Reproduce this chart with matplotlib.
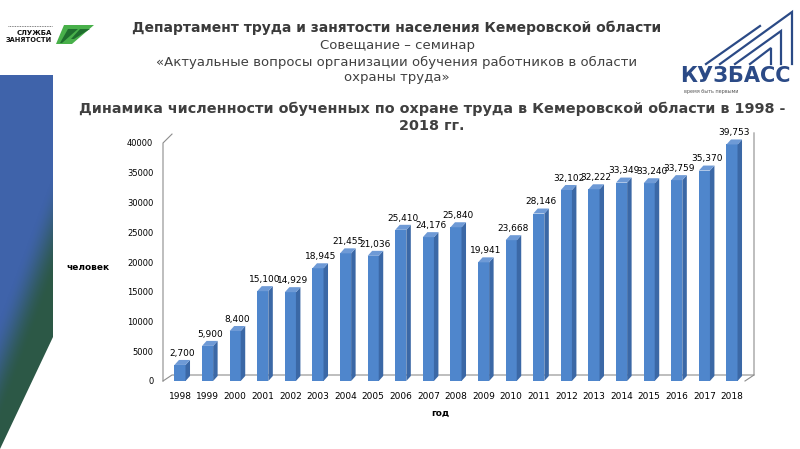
import matplotlib
matplotlib.use("Agg")
import matplotlib.pyplot as plt
import numpy as np
from matplotlib.patches import Polygon
from matplotlib.colors import LinearSegmentedColormap

# data
years = ["1998", "1999", "2000", "2001", "2002", "2003", "2004", "2005", "2006", "2007",
         "2008", "2009", "2010", "2011", "2012", "2013", "2014", "2015", "2016", "2017", "2018"]
trained = [2700, 5900, 8400, 15100, 14929, 18945, 21455, 21036, 25410, 24176,
           25840, 19941, 23668, 28146, 32102, 32222, 33349, 33240, 33759, 35370, 39753]
y_ticks = [0, 5000, 10000, 15000, 20000, 25000, 30000, 35000, 40000]

header = "Департамент труда и занятости населения Кемеровской области"
sub1 = "Совещание – семинар"
sub2 = "«Актуальные вопросы организации обучения работников в области"
sub3 = "охраны труда»"
title = "Динамика численности обученных по охране труда в Кемеровской области в 1998 -\n2018 гг."

W, H = 800, 449
fig = plt.figure(figsize=(8, 4.49), dpi=100)

# overlay in pixel coords for decoration and headings
bg = fig.add_axes([0, 0, 1, 1])
bg.set_xlim(0, W)
bg.set_ylim(H, 0)
bg.axis("off")

# left gradient band
yy, xx = np.mgrid[0:H, 0:60]
t = (xx / 53.0 - 0.5) * 1.3 + (yy - 240) / 110.0
t = np.clip(t, 0, 1)
t = t * t * (3 - 2 * t)
cmap = LinearSegmentedColormap.from_list("band", ["#3f63aa", "#2c5846"])
im = bg.imshow(t, cmap=cmap, extent=(0, 60, H, 0), aspect="auto", zorder=1)
band = Polygon([(0, 75), (53, 75), (53, 337), (0, 449)], closed=True,
               transform=bg.transData, facecolor="none", edgecolor="none")
bg.add_patch(band)
im.set_clip_path(band)

# left logo (rough)
bg.text(52, 33, "СЛУЖБА", fontsize=5, fontweight="bold", ha="right", va="center", color="#111111")
bg.text(52, 40, "ЗАНЯТОСТИ", fontsize=4.8, fontweight="bold", ha="right", va="center", color="#111111")
bg.plot([8, 52], [26, 26], color="#555555", lw=0.6, ls=(0, (1, 1)))
bg.add_patch(Polygon([(64, 25), (94, 25), (72, 44), (56, 44)], closed=True, facecolor="#48b04a", edgecolor="none"))
bg.add_patch(Polygon([(68, 29), (78, 29), (62, 43), (60, 43)], closed=True, facecolor="#1f6e2e", edgecolor="none"))
bg.add_patch(Polygon([(80, 29), (90, 29), (74, 39), (71, 39)], closed=True, facecolor="#1f6e2e", edgecolor="none"))

# right logo (rough)
navy = "#2b4a86"
for pts in ([(720, 64), (792, 12), (792, 64)],
            [(735, 64), (781, 31), (781, 64)],
            [(750, 64), (771, 48), (771, 64)],
            [(706, 64), (760, 26)]):
    px, py = zip(*pts)
    bg.plot(px, py, color=navy, lw=1.6, solid_joinstyle="miter")
bg.text(735, 76, "КУЗБАСС", fontsize=15, fontweight="bold", color=navy, ha="center", va="center")
bg.text(684, 91, "время быть первыми", fontsize=3.5, color="#555555", ha="left", va="center")

# headings
bg.text(397, 28, header, fontsize=10, fontweight="bold", color="#3a3a3a", ha="center", va="center")
bg.text(397, 46, sub1, fontsize=9.5, color="#404040", ha="center", va="center")
bg.text(397, 62, sub2, fontsize=9.5, color="#404040", ha="center", va="center")
bg.text(397, 78, sub3, fontsize=9.5, color="#404040", ha="center", va="center")
bg.text(432, 117, title, fontsize=10.4, fontweight="bold", color="#404040",
        ha="center", va="center", linespacing=1.3)
bg.text(88, 268, "человек", fontsize=6.5, fontweight="bold", ha="center", va="center")
bg.text(440, 413, "год", fontsize=6.5, fontweight="bold", ha="center", va="center")

# chart axes: 1998 at x=180 px, 27.6 px per year; y=0 at 381 px, 238 px per 40000
step = 27.6
x0px = 180
left_px, right_px = 163, 770
top_px, bot_px = 125, 381
ax = fig.add_axes([left_px / W, (H - bot_px) / H, (right_px - left_px) / W, (bot_px - top_px) / H])
ax.set_xlim((left_px - x0px) / step, (right_px - x0px) / step)
ax.set_ylim(0, (bot_px - top_px) / 238 * 40000)
ax.patch.set_alpha(0)
for s in ax.spines.values():
    s.set_visible(False)

x = np.arange(len(years))
bw = 0.4
dx = 4.5 / step
dy = 5 / 238 * 40000
front = "#4f86cc"
side = "#3b68a6"
topc = "#6e9ad6"
ax.bar(x, trained, width=bw, color=front, edgecolor="none", zorder=3)
for xi, v in zip(x, trained):
    r = xi + bw / 2
    l = xi - bw / 2
    ax.add_patch(Polygon([(r, 0), (r + dx, dy), (r + dx, v + dy), (r, v)], closed=True,
                         facecolor=side, edgecolor="none", zorder=3))
    ax.add_patch(Polygon([(l, v), (l + dx, v + dy), (r + dx, v + dy), (r, v)], closed=True,
                         facecolor=topc, edgecolor="none", zorder=3))
    ax.text(xi + dx / 2, v + dy + 350, f"{v:,}", fontsize=6.5, ha="center", va="bottom", zorder=4)

# 3d walls
wdx = 9 / step
wdy = 6 / 238 * 40000
xl = (163 - x0px) / step
xr = (754 - x0px) / step
gray = "#8c8c8c"
ax.plot([xl, xl, xl + wdx], [0, 40000, 40000 + 1500], color=gray, lw=0.8, clip_on=False, zorder=2)
ax.plot([xl, xl + wdx, xr], [0, wdy, wdy], color=gray, lw=0.8, clip_on=False, zorder=2)
ax.plot([xr - wdx, xr, xr], [0, wdy, 41700], color=gray, lw=0.8, clip_on=False, zorder=2)

ax.set_yticks(y_ticks)
ax.set_yticklabels([str(v) for v in y_ticks], fontsize=6)
ax.set_xticks(x)
ax.set_xticklabels(years, fontsize=6.5)
ax.tick_params(axis="both", length=0)
ax.tick_params(axis="y", pad=7)
ax.tick_params(axis="x", pad=8)

fig.savefig("out.png", dpi=100)
